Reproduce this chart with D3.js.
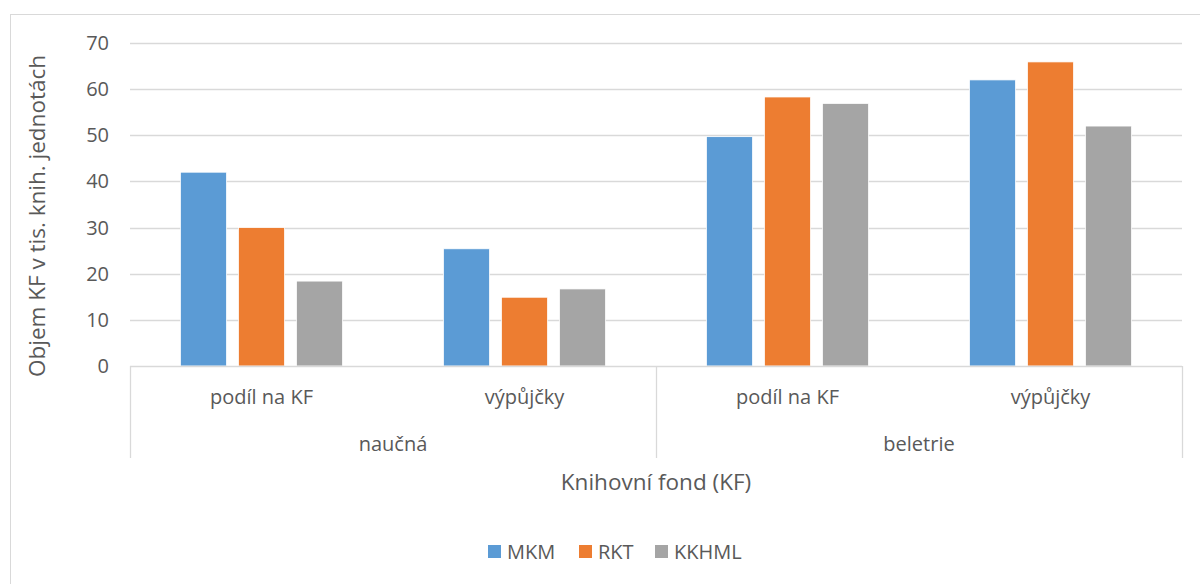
<!DOCTYPE html>
<html>
<head>
<meta charset="utf-8">
<script src="https://cdn.jsdelivr.net/npm/d3@7"></script>
<style>
  body { margin: 0; background: #fff; }
  svg { font-family: "Open Sans", Lato, sans-serif; }
</style>
</head>
<body>
<div id="chart-area"></div>
<script>
// data
const groups = ["naučná", "beletrie"];
const categories = ["naučná|podíl na KF", "naučná|výpůjčky", "beletrie|podíl na KF", "beletrie|výpůjčky"];
const seriesNames = ["MKM", "RKT", "KKHML"];
const MKM = [42, 25.4, 49.7, 62];
const RKT = [30, 14.9, 58.3, 65.9];
const KKHML = [18.4, 16.7, 56.9, 52];
const yTicks = [0, 10, 20, 30, 40, 50, 60, 70];
const colors = ["#5b9bd5", "#ed7d31", "#a5a5a5"];

const values = [MKM, RKT, KKHML];

const W = 1200, H = 584;
const plotLeft = 130, plotRight = 1182, plotTop = 43, plotBottom = 366;

const svg = d3.select("#chart-area").append("svg")
    .attr("width", W)
    .attr("height", H)

// chart frame
svg.append("rect")
    .attr("x", 10.5).attr("y", 14.5)
    .attr("width", W - 10).attr("height", H - 14)
    .attr("fill", "none")
    .attr("stroke", "#d9d9d9")

const y = d3.scaleLinear().domain([0, 70]).range([plotBottom, plotTop])
const x0 = d3.scaleBand().domain(categories).range([plotLeft, plotRight])
const x1 = d3.scaleBand().domain(seriesNames).range([0, x0.bandwidth()])
    .paddingInner(0.207).paddingOuter(0.87)

// gridlines
svg.selectAll("line.grid")
    .data(yTicks.filter(d => d > 0))
    .enter().append("line")
    .attr("x1", plotLeft).attr("x2", plotRight)
    .attr("y1", d => Math.round(y(d)) + 0.5)
    .attr("y2", d => Math.round(y(d)) + 0.5)
    .attr("stroke", "#d9d9d9")
    .attr("stroke-width", 1.3)

// y tick labels
svg.selectAll("text.ytick")
    .data(yTicks)
    .enter().append("text")
    .attr("x", 109)
    .attr("y", d => y(d))
    .attr("dy", "0.35em")
    .attr("text-anchor", "end")
    .attr("font-size", 20)
    .attr("fill", "#595959")
    .text(d => d)

// bars
seriesNames.forEach((s, si) => {
    svg.selectAll("rect.s" + si)
        .data(categories)
        .enter().append("rect")
        .attr("x", (c) => x0(c) + x1(s))
        .attr("y", (c, i) => y(values[si][i]))
        .attr("width", x1.bandwidth())
        .attr("height", (c, i) => plotBottom - y(values[si][i]))
        .attr("fill", colors[si])
        .attr("stroke", "#fff")
        .attr("stroke-width", 0.75)
})

// x axis line and group separators
svg.append("line")
    .attr("x1", plotLeft).attr("x2", plotRight)
    .attr("y1", plotBottom + 0.5).attr("y2", plotBottom + 0.5)
    .attr("stroke", "#d9d9d9").attr("stroke-width", 1.3)

const groupWidth = (plotRight - plotLeft) / groups.length
svg.selectAll("line.sep")
    .data(d3.range(groups.length + 1))
    .enter().append("line")
    .attr("x1", i => plotLeft + i * groupWidth + 0.5)
    .attr("x2", i => plotLeft + i * groupWidth + 0.5)
    .attr("y1", plotBottom).attr("y2", 458)
    .attr("stroke", "#d9d9d9").attr("stroke-width", 1.3)

// inner category labels
svg.selectAll("text.cat")
    .data(categories)
    .enter().append("text")
    .attr("x", c => x0(c) + x0.bandwidth() / 2)
    .attr("y", 404)
    .attr("text-anchor", "middle")
    .attr("font-size", 20)
    .attr("fill", "#595959")
    .text(c => c.split("|")[1])

// outer group labels
svg.selectAll("text.grp")
    .data(groups)
    .enter().append("text")
    .attr("x", (g, i) => plotLeft + (i + 0.5) * groupWidth)
    .attr("y", 451)
    .attr("text-anchor", "middle")
    .attr("font-size", 20)
    .attr("fill", "#595959")
    .text(g => g)

// axis titles
svg.append("text")
    .attr("x", (plotLeft + plotRight) / 2)
    .attr("y", 490)
    .attr("text-anchor", "middle")
    .attr("font-size", 22.5)
    .attr("fill", "#595959")
    .text("Knihovní fond (KF)")

svg.append("text")
    .attr("transform", "translate(45,216) rotate(-90)")
    .attr("text-anchor", "middle")
    .attr("font-size", 22.5)
    .attr("fill", "#595959")
    .text("Objem KF v tis. knih. jednotách")

// legend
const legendX = [488, 579, 655]
const legend = svg.selectAll("g.legend")
    .data(seriesNames)
    .enter().append("g")
    .attr("transform", (d, i) => "translate(" + legendX[i] + ",545)")

legend.append("rect")
    .attr("width", 13).attr("height", 13)
    .attr("fill", (d, i) => colors[i])

legend.append("text")
    .attr("x", 19).attr("y", 6.5)
    .attr("dy", "0.35em")
    .attr("font-size", 20)
    .attr("fill", "#595959")
    .text(d => d)
</script>
</body>
</html>
